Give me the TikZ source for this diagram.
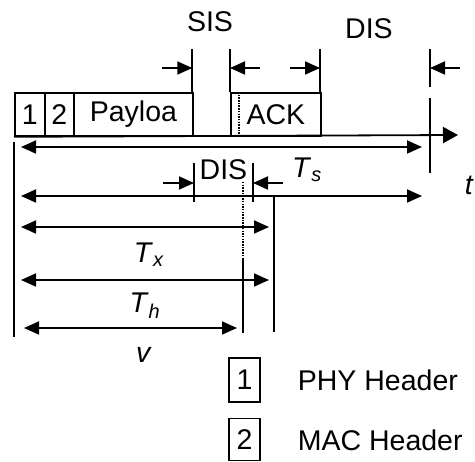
\documentclass[tikz,border=0pt]{standalone}
\usepackage{fontspec}
\setmainfont{Liberation Sans}
\usetikzlibrary{arrows.meta}
\newcommand{\tlab}[2]{\textit{#1}\textsubscript{\textit{#2}}}
\begin{document}
\begin{tikzpicture}[x=1pt,y=-1pt,line width=1.8pt,>={Triangle[length=15pt,width=13pt]}]
			\tikzset{every node/.style={font=\fontsize{28.5}{34}\selectfont,inner sep=0pt},
				fbox/.style={draw,minimum height=43pt,anchor=north west},
				dotline/.style={line width=1.3pt,dash pattern=on 1.5pt off 1.2pt}}
			\useasboundingbox (0,0) rectangle (475,462);
			\node[fbox,minimum width=30pt] (h1) at (14,92) {1};
			\node[fbox,minimum width=28.7pt] (h2) at (44,92) {2};
			\node[fbox,minimum width=119.6pt] (pay) at (72.7,92) {Payloa};
			\node[fbox,minimum width=90pt] (ack) at (230,92) {ACK};
			\draw[->,>={Triangle[length=15pt,width=16pt]}] (h1.south west)--(458,135);
			\draw[dotline] (239,92)--(239,137);
			\foreach \x/\y in {192.3/92,230/92,320/92,430/87}
			\draw (\x,49)--(\x,\y);
			\foreach \a/\b in {162/192.3,260/230,290/320,460/430}
			\draw[->] (\a,68)--(\b,68);
			\node (sis) at (210,22) {SIS};
			\node (dis) at (369,29) {DIS};
			\draw (430,98)--(430,173);
			\draw (14,142)--(14,337);
			\draw[<->] (21,147)--(422,147);
			\node (ts) at (307,170) {\tlab{T}{s}};
			\node[anchor=west] (t) at (464,185) {\textit{t}};
			\foreach \x in {194,253}
			\draw (\x,163)--(\x,202);
			\draw[->] (163,183)--(194,183);
			\draw[->] (283,183)--(253,183);
			\node (dis2) at (223.5,170) {DIS};
			\draw[<->] (21,196)--(422,196);
			\draw (274,195)--(274,332);
			\draw[dotline] (243,182)--(243,258);
			\draw (243,258)--(243,333);
			\draw[<->] (21,227)--(269,227);
			\node (tx) at (149,255) {\tlab{T}{x}};
			\draw[<->] (21,280)--(269,280);
			\node (th) at (145,306) {\tlab{T}{h}};
			\draw[<->] (24,328)--(237,328);
			\node (v) at (144,355) {\textit{v}};
			\node[fbox,minimum width=31pt,minimum height=44pt,anchor=center] (k1) at (244.5,380) {1};
			\node[anchor=west] (k1t) at (297,380) {PHY Header};
			\node[fbox,minimum width=31pt,minimum height=42pt,anchor=center] (k2) at (244.5,439.5) {2};
			\node[anchor=west] (k2t) at (297,440) {MAC Header};
		\end{tikzpicture}
\end{document}
